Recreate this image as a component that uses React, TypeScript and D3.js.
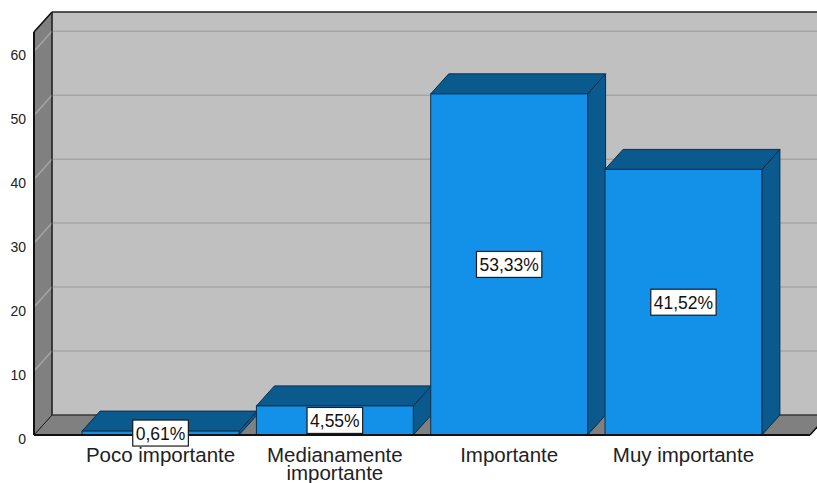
import React from "react";
import * as d3 from "d3";

const categories = ["Poco importante", "Medianamente importante", "Importante", "Muy importante"];
const categoryLines = [["Poco importante"], ["Medianamente", "importante"], ["Importante"], ["Muy importante"]];
const values = [0.61, 4.55, 53.33, 41.52];
const valueLabels = ["0,61%", "4,55%", "53,33%", "41,52%"];
const yTicks = [0, 10, 20, 30, 40, 50, 60];

const W = 817;
const H = 483;
const FONT = "'Liberation Sans', Arial, sans-serif";

function measure(text: string, size: number): number {
  if (typeof document === "undefined") return text.length * size * 0.55;
  const c = document.createElement("canvas");
  const ctx = c.getContext("2d");
  if (!ctx) return text.length * size * 0.55;
  ctx.font = `${size}px 'Liberation Sans', Arial, sans-serif`;
  return ctx.measureText(text).width;
}

export default function App() {
  const x0 = 34, x1 = 810, yBottom = 435, yTop = 32;
  const dx = 18, dy = -20;
  const y = d3.scaleLinear().domain([0, 63]).range([yBottom, yTop]);
  const x = d3.scaleBand<string>().domain(categories).range([x0, x1]).paddingInner(0.1).paddingOuter(0.276);
  const bw = x.bandwidth();

  const wallGray = "#808080";
  const backGray = "#c0c0c0";
  const gridColor = "#a6a6a6";
  const front = "#1391e8";
  const dark = "#0b5a8e";
  const edge = "#0a2f4d";

  const poly = (pts: [number, number][]) => pts.map((p) => p.join(",")).join(" ");

  return (
    <svg width={W} height={H} style={{ position: "absolute", left: 0, top: 0, background: "#fff" }}>
      {/* back wall */}
      <rect x={x0 + dx} y={yTop + dy} width={x1 - x0 + 10} height={yBottom - yTop} fill={backGray} />
      {/* floor */}
      <polygon
        points={poly([[x0, yBottom], [x0 + dx, yBottom + dy], [x1 + dx, yBottom + dy], [x1, yBottom]])}
        fill={wallGray}
        stroke="#222"
        strokeWidth={1}
      />
      {/* left wall */}
      <polygon
        points={poly([[x0, yBottom], [x0, yTop], [x0 + dx, yTop + dy], [x0 + dx, yBottom + dy]])}
        fill={wallGray}
        stroke="#222"
        strokeWidth={1}
      />
      {/* gridlines */}
      {yTicks.filter((t) => t > 0).map((t) => (
        <g key={t}>
          <line x1={x0} y1={y(t)} x2={x0 + dx} y2={y(t) + dy} stroke={gridColor} strokeWidth={1.5} />
          <line x1={x0 + dx} y1={y(t) + dy} x2={W} y2={y(t) + dy} stroke={gridColor} strokeWidth={1.5} />
        </g>
      ))}
      {/* back wall edges */}
      <line x1={x0 + dx} y1={yTop + dy} x2={W} y2={yTop + dy} stroke="#222" strokeWidth={1.5} />
      <line x1={x0 + dx} y1={yTop + dy} x2={x0 + dx} y2={yBottom + dy} stroke="#222" strokeWidth={1.2} />
      <line x1={x0 + dx} y1={yBottom + dy} x2={W} y2={yBottom + dy} stroke="#444" strokeWidth={1} />
      {/* front edges */}
      <line x1={x0} y1={yTop} x2={x0} y2={yBottom} stroke="#111" strokeWidth={2} />
      <line x1={x0} y1={yBottom} x2={x1} y2={yBottom} stroke="#111" strokeWidth={2} />
      <line x1={x0} y1={yTop} x2={x0 + dx} y2={yTop + dy} stroke="#111" strokeWidth={1.5} />
      <line x1={x1} y1={yBottom} x2={x1 + dx} y2={yBottom + dy} stroke="#111" strokeWidth={1.5} />

      {/* bars */}
      {categories.map((c, i) => {
        const bx = x(c)!;
        const top = y(values[i]);
        return (
          <g key={c}>
            <polygon
              points={poly([[bx + bw, yBottom], [bx + bw, top], [bx + bw + dx, top + dy], [bx + bw + dx, yBottom + dy]])}
              fill={dark}
              stroke={edge}
              strokeWidth={1}
            />
            <polygon
              points={poly([[bx, top], [bx + dx, top + dy], [bx + bw + dx, top + dy], [bx + bw, top]])}
              fill={dark}
              stroke={edge}
              strokeWidth={1}
            />
            <rect x={bx} y={top} width={bw} height={yBottom - top} fill={front} stroke={edge} strokeWidth={1} />
          </g>
        );
      })}
      <line x1={x0} y1={yBottom} x2={x1} y2={yBottom} stroke="#111" strokeWidth={2} />

      {/* value labels */}
      {categories.map((c, i) => {
        const cx = x(c)! + bw / 2;
        const cy = (y(values[i]) + yBottom) / 2;
        const fs = 17.5;
        const tw = measure(valueLabels[i], fs);
        const bwid = tw + 6;
        const bh = 26;
        return (
          <g key={"l" + c}>
            <rect x={cx - bwid / 2} y={cy - bh / 2} width={bwid} height={bh} fill="#fff" stroke="#1a1a1a" strokeWidth={1.2} />
            <text x={cx} y={cy + 6.5} textAnchor="middle" fontFamily={FONT} fontSize={fs} fill="#111">
              {valueLabels[i]}
            </text>
          </g>
        );
      })}

      {/* y tick labels */}
      {yTicks.map((t) => (
        <text key={"t" + t} x={26} y={y(t) + 8.5} textAnchor="end" fontFamily={FONT} fontSize={14} fill="#222">
          {t}
        </text>
      ))}

      {/* category labels */}
      {categories.map((c, i) => (
        <text key={"c" + c} textAnchor="middle" fontFamily={FONT} fontSize={20.5} fill="#222">
          {categoryLines[i].map((ln, j) => (
            <tspan key={j} x={x(c)! + bw / 2} y={462 + j * 18}>
              {ln}
            </tspan>
          ))}
        </text>
      ))}
    </svg>
  );
}
